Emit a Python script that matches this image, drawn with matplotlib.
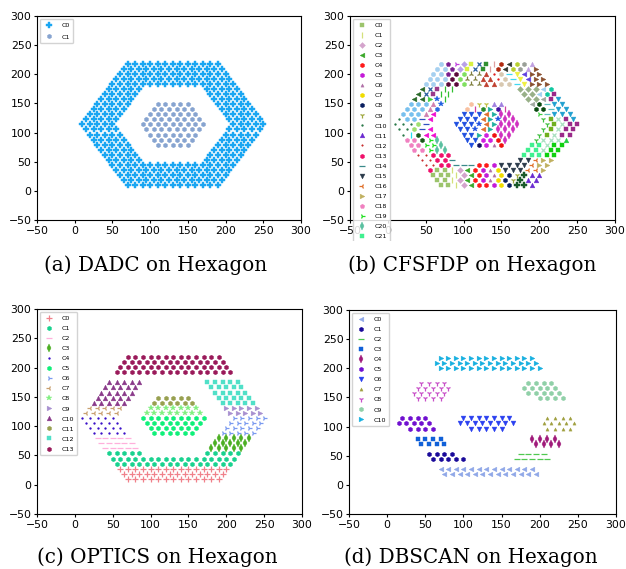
import matplotlib
matplotlib.use("Agg")
import matplotlib.pyplot as plt
from matplotlib.patches import Rectangle
import numpy as np

# y of the 25 lattice rows (bottom to top)
ROW_Y = [10, 18.7, 27.3, 36, 44.6, 53.3, 62, 70.6, 79.3, 88, 96.6, 105.3, 114,
         122.6, 131.3, 140, 148.6, 157.3, 166, 174.6, 183.3, 192, 200.6, 209.3, 218]
STEP = 10  # point spacing along a row

# segments: (cluster, row, first x, last x)
A_SEGMENTS = [
    (0, 0, 70, 190), (0, 1, 65, 195), (0, 2, 60, 200), (0, 3, 55, 205), (0, 4, 50, 210),
    (0, 5, 45, 85), (0, 5, 175, 215), (0, 6, 40, 80), (0, 6, 180, 220),
    (0, 7, 35, 75), (0, 7, 185, 225), (0, 8, 30, 70), (0, 8, 190, 230),
    (0, 9, 25, 65), (0, 9, 195, 235), (0, 10, 20, 60), (0, 10, 200, 240),
    (0, 11, 15, 55), (0, 11, 205, 245), (0, 12, 10, 50), (0, 12, 210, 250),
    (0, 13, 15, 55), (0, 13, 205, 245), (0, 14, 20, 60), (0, 14, 200, 240),
    (0, 15, 25, 65), (0, 15, 195, 235), (0, 16, 30, 70), (0, 16, 190, 230),
    (0, 17, 35, 75), (0, 17, 185, 225), (0, 18, 40, 80), (0, 18, 180, 220),
    (0, 19, 45, 85), (0, 19, 175, 215),
    (0, 20, 50, 210), (0, 21, 55, 205), (0, 22, 60, 200), (0, 23, 65, 195), (0, 24, 70, 190),
    (1, 8, 110, 150), (1, 9, 105, 155), (1, 10, 100, 160), (1, 11, 95, 165), (1, 12, 90, 170),
    (1, 13, 95, 165), (1, 14, 100, 160), (1, 15, 105, 155), (1, 16, 110, 150),
]
A_MARKERS = ["P", "h"]
A_COLORS = ["#1aa6f2", "#87a4d0"]

B_SEGMENTS = [
    # bottom band
    (0, 0, 70, 80), (1, 0, 90, 90), (2, 0, 100, 100), (3, 0, 110, 110), (4, 0, 120, 130),
    (5, 0, 140, 140), (7, 0, 150, 150), (8, 0, 160, 160), (86, 0, 170, 180), (11, 0, 190, 190),
    (0, 1, 65, 75), (1, 1, 85, 85), (2, 1, 95, 95), (3, 1, 105, 105), (4, 1, 115, 115),
    (5, 1, 125, 125), (6, 1, 135, 135), (7, 1, 145, 145), (8, 1, 155, 155), (9, 1, 165, 165),
    (86, 1, 175, 175), (11, 1, 185, 195),
    (0, 2, 60, 80), (1, 2, 90, 90), (2, 2, 100, 100), (3, 2, 110, 110), (4, 2, 120, 120),
    (5, 2, 130, 130), (6, 2, 140, 140), (7, 2, 150, 150), (8, 2, 160, 160), (9, 2, 170, 170),
    (86, 2, 180, 180), (11, 2, 190, 200),
    (13, 3, 55, 55), (0, 3, 65, 75), (1, 3, 85, 85), (2, 3, 95, 95), (3, 3, 105, 105),
    (4, 3, 115, 115), (5, 3, 125, 125), (6, 3, 135, 135), (7, 3, 145, 145), (15, 3, 155, 175),
    (16, 3, 185, 195), (17, 3, 205, 205),
    (12, 4, 50, 60), (13, 4, 70, 80), (14, 4, 90, 110), (4, 4, 120, 130), (5, 4, 140, 140),
    (15, 4, 150, 180), (16, 4, 190, 190), (17, 4, 200, 210),
    (12, 5, 45, 55), (13, 5, 65, 75), (14, 5, 85, 85), (15, 5, 175, 185), (16, 5, 195, 195),
    (17, 5, 205, 215),
    # left band
    (12, 6, 40, 50), (13, 6, 60, 80),
    (18, 7, 35, 45), (19, 7, 55, 55), (20, 7, 65, 75),
    (18, 8, 30, 40), (19, 8, 50, 60), (20, 8, 70, 70),
    (18, 9, 25, 35), (63, 9, 45, 45), (19, 9, 55, 55), (20, 9, 65, 65),
    (10, 10, 20, 20), (62, 10, 30, 30), (63, 10, 40, 40), (59, 10, 50, 60),
    (10, 11, 15, 25), (61, 11, 35, 35), (60, 11, 45, 45), (59, 11, 55, 55),
    (10, 12, 10, 30), (61, 12, 40, 40), (60, 12, 50, 50),
    (10, 13, 15, 15), (56, 13, 25, 35), (60, 13, 45, 45), (59, 13, 55, 55),
    (56, 14, 20, 40), (57, 14, 50, 50), (59, 14, 60, 60),
    (56, 15, 25, 45), (57, 15, 55, 55), (58, 15, 65, 65),
    (56, 16, 30, 50), (57, 16, 60, 60), (55, 16, 70, 70),
    (51, 17, 35, 45), (54, 17, 55, 55), (55, 17, 65, 65), (53, 17, 75, 75),
    (51, 18, 40, 40), (31, 18, 50, 50), (52, 18, 60, 60), (53, 18, 70, 80),
    (51, 19, 45, 45), (31, 19, 55, 55), (52, 19, 65, 65), (53, 19, 75, 85),
    # top band
    (23, 20, 50, 70), (26, 20, 80, 90), (28, 20, 100, 100), (30, 20, 110, 120), (33, 20, 130, 140),
    (37, 20, 150, 160), (39, 20, 170, 170), (41, 20, 180, 180), (45, 20, 190, 210),
    (23, 21, 55, 75), (26, 21, 85, 85), (28, 21, 95, 95), (30, 21, 105, 115), (33, 21, 125, 135),
    (35, 21, 145, 145), (37, 21, 155, 155), (39, 21, 165, 165), (41, 21, 175, 175),
    (43, 21, 185, 185), (45, 21, 195, 205),
    (23, 22, 60, 70), (24, 22, 80, 80), (26, 22, 90, 90), (28, 22, 100, 100), (30, 22, 110, 120),
    (33, 22, 130, 130), (35, 22, 140, 140), (37, 22, 150, 150), (39, 22, 160, 160),
    (41, 22, 170, 170), (43, 22, 180, 180), (45, 22, 190, 200),
    (23, 23, 65, 75), (24, 23, 85, 85), (27, 23, 95, 95), (29, 23, 105, 105), (31, 23, 115, 115),
    (32, 23, 125, 125), (34, 23, 135, 135), (36, 23, 145, 145), (38, 23, 155, 155),
    (40, 23, 165, 165), (42, 23, 175, 175), (44, 23, 185, 185), (45, 23, 195, 195),
    (23, 24, 70, 70), (24, 24, 80, 80), (25, 24, 90, 90), (27, 24, 100, 100), (29, 24, 110, 110),
    (31, 24, 120, 120), (32, 24, 130, 130), (34, 24, 140, 140), (36, 24, 150, 150),
    (38, 24, 160, 160), (40, 24, 170, 170), (42, 24, 180, 180), (44, 24, 190, 190),
    # right band
    (78, 19, 175, 195), (79, 19, 205, 205), (80, 19, 215, 215),
    (78, 18, 180, 190), (79, 18, 200, 200), (80, 18, 210, 210), (48, 18, 220, 220),
    (78, 17, 185, 195), (85, 17, 205, 205), (48, 17, 215, 215), (81, 17, 225, 225),
    (85, 16, 190, 190), (82, 16, 200, 200), (83, 16, 210, 210), (81, 16, 220, 230),
    (82, 15, 195, 205), (83, 15, 215, 215), (81, 15, 225, 235),
    (84, 14, 200, 200), (83, 14, 210, 210), (81, 14, 220, 240),
    (46, 13, 205, 205), (47, 13, 215, 215), (22, 13, 225, 225), (48, 13, 235, 235), (81, 13, 245, 245),
    (46, 12, 210, 210), (47, 12, 220, 220), (22, 12, 230, 230), (48, 12, 240, 250),
    (46, 11, 205, 205), (47, 11, 215, 215), (22, 11, 225, 225), (48, 11, 235, 245),
    (46, 10, 200, 200), (47, 10, 210, 210), (22, 10, 220, 220), (48, 10, 230, 240),
    (46, 9, 195, 195), (22, 9, 205, 225), (50, 9, 235, 235),
    (21, 8, 190, 200), (22, 8, 210, 210), (49, 8, 220, 230),
    (21, 7, 185, 195), (22, 7, 205, 205), (49, 7, 215, 225),
    (21, 6, 180, 200), (49, 6, 210, 220),
    # inner hexagon
    (65, 16, 110, 110), (66, 16, 120, 130), (67, 16, 140, 150),
    (65, 15, 105, 105), (68, 15, 115, 115), (69, 15, 125, 125), (70, 15, 135, 135),
    (71, 15, 145, 145), (68, 15, 155, 155),
    (64, 14, 100, 120), (72, 14, 130, 130), (70, 14, 140, 140), (73, 14, 150, 160),
    (64, 13, 95, 115), (72, 13, 125, 125), (70, 13, 135, 135), (74, 13, 145, 145), (73, 13, 155, 165),
    (64, 12, 90, 110), (74, 12, 120, 120), (72, 12, 130, 130), (70, 12, 140, 140), (73, 12, 150, 170),
    (64, 11, 95, 105), (74, 11, 115, 115), (72, 11, 125, 125), (70, 11, 135, 135), (73, 11, 145, 165),
    (64, 10, 100, 110), (70, 10, 120, 120), (75, 10, 130, 130), (76, 10, 140, 140), (73, 10, 150, 160),
    (64, 9, 105, 115), (75, 9, 125, 135), (76, 9, 145, 145), (73, 9, 155, 155),
    (64, 8, 110, 110), (77, 8, 120, 120), (75, 8, 130, 130), (6, 8, 140, 140), (76, 8, 150, 150),
]
B_MARKERS = [
    "s", "|", "D", "<", "h", "h", "^", "h", "h", "1", ".", "^", ".", "h", "_", "v", "3", ">",
    "p", "4", "d", "s", "x", "o", "p", "4", "h", "D", "h", "s", "2", "x", "s", "^", "|", ".",
    "h", "h", "<", "_", "h", "v", "h", "<", "^", ">", "1", "s", "s", "s", "^", "<", "s", "|",
    ">", "*", "h", "^", "h", "<", "_", "h", "|", "h", "v", "h", "1", "^", "|", "h", ">", "h",
    "<", "d", "*", "h", "h", "h", "D", "<", "h", "v", "h", "_", "4", "<", "P",
]
B_COLORS = [
    "#9cc46c", "#d4e07a", "#d4a4cc", "#3aa82a", "#ff1a1a", "#c41ad8", "#b070a8", "#f0dc00",
    "#0a1f5f", "#a0a840", "#2a7a4a", "#6a2ad0", "#c83030", "#f0106a", "#3a8a8a", "#2a3a4a",
    "#e0702a", "#c0b060", "#f080c0", "#20e020", "#5ac0a0", "#40f090", "#a8e0c0", "#a6d0f0",
    "#7a1f8f", "#c040e0", "#5a0a3a", "#b8a0e8", "#80e060", "#d8f040", "#808040", "#2a60a0",
    "#2f8f2f", "#c04030", "#e0a0a0", "#e02020", "#b02a10", "#d8c8b0", "#303830", "#40d8f0",
    "#b8d030", "#f0f040", "#9aa098", "#6040e0", "#c0a0e0", "#8a5030", "#40c040", "#70b020",
    "#9a2a8a", "#10d010", "#20d040", "#2a6a2a", "#9a3a8a", "#30c030", "#40d040", "#2060e0",
    "#78c0ee", "#d080b0", "#2a6ae0", "#f010d0", "#3050c0", "#a0e070", "#20e0f0", "#1a5a1a",
    "#1f4fe0", "#f8c0a0", "#c0c040", "#a080e0", "#d040a0", "#2a8a2a", "#20b0a0", "#4010a0",
    "#e07030", "#d030c0", "#2050e0", "#d020e0", "#f01010", "#101060", "#98b088", "#a0d0f0",
    "#10c8a0", "#20a0d0", "#0a4a10", "#60c0c0", "#40d040", "#a0a8a0", "#1a5a2a",
]

C_SEGMENTS = [
    (0, 0, 70, 190), (0, 1, 65, 195), (0, 2, 60, 200),
    (1, 3, 55, 205), (1, 4, 50, 210), (1, 5, 45, 85), (1, 5, 175, 215),
    (2, 6, 40, 80), (2, 7, 35, 75), (2, 8, 30, 70),
    (3, 6, 180, 220), (3, 7, 185, 225), (3, 8, 190, 230),
    (4, 9, 25, 65), (4, 10, 20, 60), (4, 11, 15, 55), (4, 12, 10, 50),
    (5, 9, 105, 155), (5, 10, 100, 160), (5, 11, 95, 165), (5, 12, 90, 170),
    (6, 9, 195, 235), (6, 10, 200, 240), (6, 11, 205, 245), (6, 12, 210, 250),
    (7, 13, 15, 55), (7, 14, 20, 60),
    (8, 13, 95, 165), (8, 14, 100, 160),
    (9, 13, 205, 245), (9, 14, 200, 240),
    (10, 15, 25, 65), (10, 16, 30, 70), (10, 17, 35, 75), (10, 18, 40, 80), (10, 19, 45, 85),
    (11, 15, 105, 155), (11, 16, 110, 150),
    (12, 15, 195, 235), (12, 16, 190, 230), (12, 17, 185, 225), (12, 18, 180, 220), (12, 19, 175, 215),
    (13, 21, 55, 205), (13, 22, 60, 200), (13, 23, 65, 195), (13, 24, 70, 190),
]
C_MARKERS = ["+", "h", "_", "d", ".", "h", "4", "3", "*", ">", "^", "h", "s", "h"]
C_COLORS = ["#f0808a", "#19d28f", "#ffb0dc", "#4caf24", "#3a10c8", "#10f07a", "#7a9af0",
            "#c8a070", "#80f080", "#a890d0", "#8a3a8a", "#98a050", "#50e0c8", "#9a1a5a"]

D_SEGMENTS = [
    (0, 1, 75, 195), (0, 2, 70, 190),
    (1, 4, 60, 100), (1, 5, 55, 85),
    (2, 4, 170, 210), (2, 5, 175, 205),
    (3, 7, 45, 75), (3, 8, 40, 70),
    (4, 7, 195, 225), (4, 8, 190, 220),
    (5, 10, 30, 60), (5, 11, 15, 55), (5, 12, 20, 50),
    (6, 10, 110, 150), (6, 11, 95, 165), (6, 12, 100, 160),
    (7, 10, 210, 240), (7, 11, 205, 245), (7, 12, 210, 240),
    (8, 16, 40, 70), (8, 17, 35, 75), (8, 18, 40, 80), (8, 19, 45, 75),
    (9, 16, 200, 230), (9, 17, 185, 225), (9, 18, 180, 220), (9, 19, 185, 215),
    (10, 22, 70, 200), (10, 23, 65, 195), (10, 24, 70, 190),
]
D_MARKERS = ["<", "h", "_", "s", "d", "h", "v", "^", "1", "h", ">"]
D_COLORS = ["#90a8e8", "#1a0a9a", "#50c850", "#1060d8", "#a01a7a", "#7010d0", "#2a40f0",
            "#a0a040", "#c850c8", "#90d0a8", "#18b0e0"]

CAPTIONS = ["(a) DADC on Hexagon", "(b) CFSFDP on Hexagon",
            "(c) OPTICS on Hexagon", "(d) DBSCAN on Hexagon"]

MS = {"s": 3.3, "D": 3.0, "d": 3.6, "h": 3.3, "o": 3.2, "P": 3.7, "p": 3.4, "^": 3.4,
      "v": 3.5, "<": 3.4, ">": 3.4, "*": 4.0, ".": 2.6, "|": 4.0, "_": 4.0, "+": 3.8,
      "x": 3.3, "1": 3.8, "2": 3.8, "3": 3.8, "4": 3.8}


def cluster_points(segments, cid):
    xs, ys = [], []
    for c, row, x0, x1 in segments:
        if c != cid:
            continue
        pts = np.arange(x0, x1 + 1, STEP)
        xs.extend(pts)
        ys.extend([ROW_Y[row]] * len(pts))
    return xs, ys


def draw_panel(ax, segments, markers, colors, n_legend=None, small=(), spacing=0.72):
    for cid, m in enumerate(markers):
        xs, ys = cluster_points(segments, cid)
        ms = 2.3 if cid in small else MS.get(m, 3.4)
        label = f"C{cid}" if (n_legend is None or cid < n_legend) else "_nolegend_"
        ax.plot(xs, ys, linestyle="none", marker=m, color=colors[cid], markersize=ms,
                markeredgewidth=0.9 if m in "|_+x1234" else 0.3, label=label)
    ax.set_xlim(-50, 300)
    ax.set_ylim(-50, 300)
    ax.set_xticks(range(-50, 301, 50))
    ax.set_yticks(range(-50, 301, 50))
    ax.tick_params(labelsize=7.8, length=2.5, width=0.8, pad=1.5)
    for sp in ax.spines.values():
        sp.set_linewidth(0.8)
    ax.legend(loc="upper left", fontsize=4.6, borderaxespad=0.5, labelspacing=spacing,
              handletextpad=1.2, handlelength=1.6, borderpad=0.5, framealpha=0.85)


fig = plt.figure(figsize=(6.26, 5.69), dpi=100)
W, H = 626, 569
boxes = [(37, 16, 301, 220), (350, 16, 615, 220), (37, 309, 302, 514), (349, 310, 616, 514)]
axes = []
for l, t, r, b in boxes:
    axes.append(fig.add_axes([l / W, 1 - b / H, (r - l) / W, (b - t) / H]))

draw_panel(axes[0], A_SEGMENTS, A_MARKERS, A_COLORS, spacing=1.0)
draw_panel(axes[1], B_SEGMENTS, B_MARKERS, B_COLORS, n_legend=23, small=(6, 12))
draw_panel(axes[2], C_SEGMENTS, C_MARKERS, C_COLORS)
draw_panel(axes[3], D_SEGMENTS, D_MARKERS, D_COLORS, small=(7,))

# the (b) legend runs past the axes and is cut off in the original
fig.add_artist(Rectangle((338 / W, 1 - 286 / H), 288 / W, 45 / H, transform=fig.transFigure,
                         facecolor="white", edgecolor="none", zorder=10))

cap_pos = [(156, 265), (472, 265), (157, 557), (471, 557)]
for (cx, cy), txt in zip(cap_pos, CAPTIONS):
    fig.text(cx / W, 1 - cy / H, txt, ha="center", va="center", fontsize=14.3,
             family="DejaVu Serif", zorder=11)

fig.savefig("out.png", dpi=100)
